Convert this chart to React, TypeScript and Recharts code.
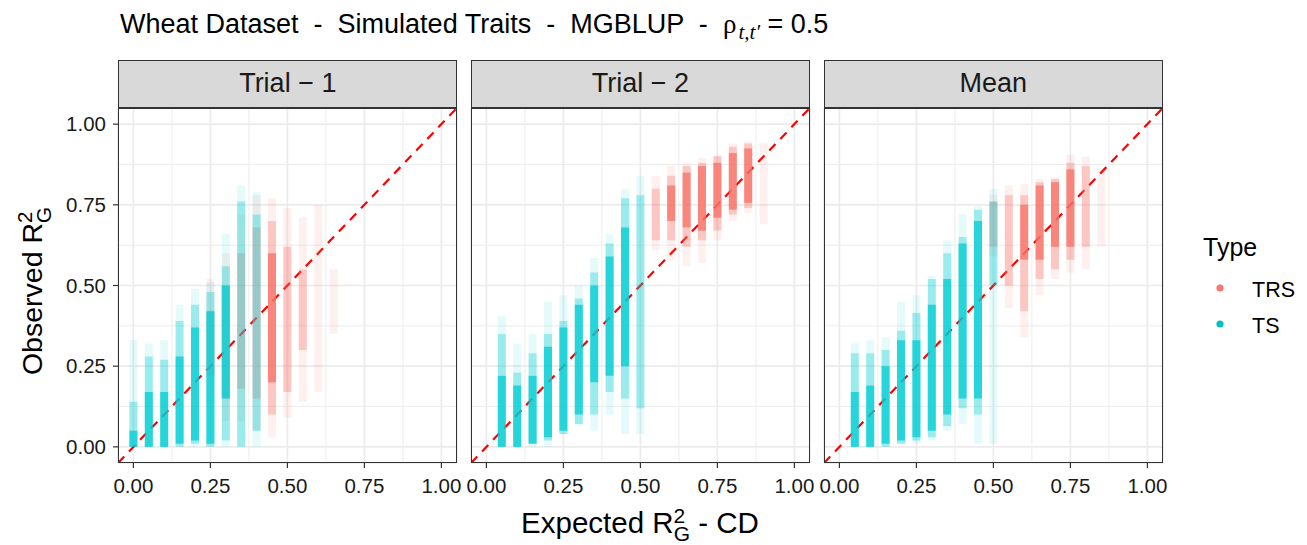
import { ScatterChart, Scatter, XAxis, YAxis, CartesianGrid, ErrorBar } from 'recharts';

// each column of points: [x, lo, midLo, coreLo, coreHi, midHi, hi]
type Col = [number, number, number | null, number | null, number | null, number | null, number];

const panelTitles = ['Trial \u2212 1', 'Trial \u2212 2', 'Mean'];
const majorTicks = [0, 0.25, 0.5, 0.75, 1];
const minorTicks = [0.125, 0.375, 0.625, 0.875];
const axisDomain: [number, number] = [-0.05, 1.05];
const diagonal = [
  { x: -0.05, y: -0.05 },
  { x: 1.05, y: 1.05 },
];

const trial1TS: Col[] = [
  [0.0, 0, 0, 0, 0.05, 0.14, 0.33],
  [0.05, 0, 0, 0, 0.17, 0.28, 0.32],
  [0.1, 0, 0, 0, 0.17, 0.27, 0.33],
  [0.15, 0, 0, 0.01, 0.28, 0.39, 0.44],
  [0.2, 0, 0.01, 0.02, 0.37, 0.44, 0.49],
  [0.25, 0, 0, 0.01, 0.42, 0.48, 0.51],
  [0.3, 0, 0.02, 0.15, 0.5, 0.56, 0.66],
  [0.35, 0, 0, null, null, 0.76, 0.81],
  [0.4, 0, 0.05, null, null, 0.72, 0.79],
];

const trial1TRS: Col[] = [
  [0.25, 0.12, 0.22, null, null, 0.42, 0.52],
  [0.3, 0.08, 0.15, null, null, 0.5, 0.6],
  [0.35, 0.08, 0.18, null, null, 0.6, 0.72],
  [0.4, 0.05, 0.15, null, null, 0.68, 0.78],
  [0.45, 0.03, 0.1, 0.2, 0.6, 0.7, 0.77],
  [0.5, 0.09, 0.17, null, null, 0.62, 0.74],
  [0.55, 0.14, 0.3, null, null, 0.55, 0.71],
  [0.6, 0.17, null, null, null, null, 0.75],
  [0.65, 0.35, null, null, null, null, 0.55],
];

const trial2TS: Col[] = [
  [0.05, 0, 0, 0, 0.22, 0.35, 0.405],
  [0.1, 0, 0, 0, 0.19, 0.23, 0.32],
  [0.15, 0, 0.01, 0.01, 0.22, 0.29, 0.35],
  [0.2, 0, 0.02, 0.03, 0.31, 0.35, 0.45],
  [0.25, 0.04, 0.04, 0.05, 0.37, 0.39, 0.47],
  [0.3, 0.07, 0.07, 0.1, 0.44, 0.46, 0.5],
  [0.35, 0.05, 0.1, 0.2, 0.5, 0.54, 0.585],
  [0.4, 0.1, 0.17, 0.22, 0.59, 0.63, 0.66],
  [0.45, 0.04, 0.15, 0.25, 0.68, 0.77, 0.8],
  [0.5, 0.04, 0.12, null, null, 0.78, 0.84],
];

const trial2TRS: Col[] = [
  [0.55, 0.61, 0.64, null, null, 0.8, 0.84],
  [0.6, 0.58, 0.64, 0.7, 0.81, 0.84, 0.87],
  [0.65, 0.56, 0.62, 0.68, 0.85, 0.87, 0.88],
  [0.7, 0.57, 0.64, 0.67, 0.87, 0.88, 0.895],
  [0.75, 0.64, 0.67, 0.71, 0.88, 0.9, 0.905],
  [0.8, 0.7, 0.72, 0.735, 0.91, 0.93, 0.94],
  [0.85, 0.725, 0.74, 0.756, 0.925, 0.94, 0.946],
  [0.9, 0.69, null, null, null, null, 0.94],
];

const meanTS: Col[] = [
  [0.05, 0, 0, 0, 0.17, 0.29, 0.32],
  [0.1, 0, 0, 0, 0.19, 0.29, 0.33],
  [0.15, 0, 0, 0.01, 0.25, 0.3, 0.34],
  [0.2, 0.01, 0.01, 0.02, 0.33, 0.36, 0.45],
  [0.25, 0.01, 0.02, 0.03, 0.33, 0.415, 0.47],
  [0.3, 0.02, 0.03, 0.05, 0.44, 0.52, 0.53],
  [0.35, 0.05, 0.065, 0.1, 0.52, 0.6, 0.64],
  [0.4, 0.07, 0.12, 0.15, 0.63, 0.65, 0.72],
  [0.45, 0.01, 0.1, 0.15, 0.7, 0.735, 0.745],
  [0.5, 0.01, 0.5, null, null, 0.76, 0.8],
];

const meanTRS: Col[] = [
  [0.5, 0.59, 0.62, null, null, 0.76, 0.78],
  [0.55, 0.43, 0.5, null, null, 0.78, 0.81],
  [0.6, 0.34, 0.42, 0.58, 0.75, 0.78, 0.815],
  [0.65, 0.47, 0.52, 0.58, 0.81, 0.82, 0.83],
  [0.7, 0.52, 0.55, 0.62, 0.82, 0.83, 0.835],
  [0.75, 0.54, 0.58, 0.62, 0.86, 0.88, 0.905],
  [0.8, 0.55, 0.62, null, null, 0.87, 0.9],
  [0.85, 0.62, null, null, null, null, 0.86],
];

const panelData = [
  { ts: trial1TS, trs: trial1TRS },
  { ts: trial2TS, trs: trial2TRS },
  { ts: meanTS, trs: meanTRS },
];

const TS_RGB = '0,205,211';
const TRS_RGB = '248,112,102';

// layout
const PANEL_TOP = 108;
const PANEL_H = 355;
const PANEL_W = 338.8;
const panelLeft = [118.4, 471.1, 823.9];
const Y_AXIS_W = 60;
const X_AXIS_H = 45;
const SIDE = 26; // room so edge tick labels are not clipped
const FONT = '"Liberation Sans", Arial, sans-serif';

// a column band between two of the tuple fields, as an error bar from lo
function band(cols: Col[], a: number, b: number) {
  return cols
    .filter((c) => c[a] != null && c[b] != null)
    .map((c) => {
      const lo = c[a] as number;
      const hi = c[b] as number;
      return { x: c[0], y: lo, e: [0, hi - lo] };
    });
}

const layers = [
  { a: 1, b: 6, alpha: 0.1 },
  { a: 2, b: 5, alpha: 0.33 },
  { a: 3, b: 4, alpha: 0.75 },
];

const noShape = () => <g />;

function Panel({ i }: { i: number }) {
  const showY = i === 0;
  const marginLeft = showY ? 0 : SIDE;
  const yW = showY ? Y_AXIS_W : 0;
  const left = panelLeft[i] - yW - marginLeft;
  const width = PANEL_W + yW + marginLeft + SIDE;
  const height = PANEL_H + X_AXIS_H;
  const { ts, trs } = panelData[i];
  const tick = { fontSize: 20.5, fill: '#1a1a1a', fontFamily: FONT };

  const series = [
    { cols: trs, rgb: TRS_RGB, name: 'TRS' },
    { cols: ts, rgb: TS_RGB, name: 'TS' },
  ];

  return (
    <>
      {/* base: grid, axes and the 1:1 line */}
      <div style={{ position: 'absolute', left, top: PANEL_TOP }}>
        <ScatterChart width={width} height={height} margin={{ top: 0, right: SIDE, bottom: 0, left: marginLeft }}>
          <XAxis xAxisId="minor" type="number" dataKey="x" domain={axisDomain} ticks={minorTicks} allowDataOverflow hide />
          <YAxis yAxisId="minor" type="number" dataKey="y" domain={axisDomain} ticks={minorTicks} allowDataOverflow hide />
          <CartesianGrid xAxisId="minor" yAxisId="minor" stroke="#EBEBEB" strokeWidth={0.9} />
          <CartesianGrid stroke="#EBEBEB" strokeWidth={1.7} />
          <XAxis
            type="number"
            dataKey="x"
            domain={axisDomain}
            ticks={majorTicks}
            interval={0}
            allowDataOverflow
            axisLine={false}
            tickLine={{ stroke: '#333', strokeWidth: 1.2 }}
            tickSize={5}
            tickMargin={10}
            tick={tick}
            tickFormatter={(v: number) => v.toFixed(2)}
            height={X_AXIS_H}
          />
          <YAxis
            type="number"
            dataKey="y"
            domain={axisDomain}
            ticks={majorTicks}
            interval={0}
            allowDataOverflow
            hide={!showY}
            axisLine={false}
            tickLine={{ stroke: '#333', strokeWidth: 1.2 }}
            tickSize={5}
            tickMargin={7}
            tick={tick}
            tickFormatter={(v: number) => v.toFixed(2)}
            width={Y_AXIS_W}
          />
          <Scatter
            data={diagonal}
            shape={noShape}
            line={{ stroke: '#FF0000', strokeWidth: 2.2, strokeDasharray: '9 7' }}
            isAnimationActive={false}
          />
        </ScatterChart>
      </div>

      {/* points on top, same plot area */}
      <div style={{ position: 'absolute', left, top: PANEL_TOP }}>
        <ScatterChart
          width={width}
          height={height}
          margin={{ top: 0, right: SIDE, bottom: X_AXIS_H, left: marginLeft + yW }}
        >
          <XAxis type="number" dataKey="x" domain={axisDomain} allowDataOverflow hide />
          <YAxis type="number" dataKey="y" domain={axisDomain} allowDataOverflow hide />
          {series.map((s) =>
            layers.map((l, k) => (
              <Scatter key={s.name + k} data={band(s.cols, l.a, l.b)} shape={noShape} isAnimationActive={false}>
                <ErrorBar
                  dataKey="e"
                  direction="y"
                  width={0}
                  stroke={`rgba(${s.rgb},${l.alpha})`}
                  strokeWidth={8}
                  isAnimationActive={false}
                />
              </Scatter>
            ))
          )}
        </ScatterChart>
      </div>
    </>
  );
}

export default function App() {
  return (
    <div style={{ position: 'relative', width: 1307, height: 545, background: '#fff', fontFamily: FONT }}>
      <style>{'body{margin:0}'}</style>
      <svg width={1307} height={545} style={{ position: 'absolute', left: 0, top: 0 }}>
        <text x={120} y={33} fontSize={27} fill="#000" fontFamily={FONT} style={{ whiteSpace: 'pre' }}>
          {'Wheat Dataset  -  Simulated Traits  -  MGBLUP  -  '}
          <tspan x={723} fontFamily='"Liberation Serif", serif'>ρ</tspan>
          <tspan fontSize={21} fontStyle="italic" fontFamily='"Liberation Serif", serif' dx={2} dy={6}>
            {'t,t\u2032'}
          </tspan>
          <tspan dy={-6}>{' = 0.5'}</tspan>
        </text>

        <text x={640} y={533} fontSize={29.5} textAnchor="middle" fill="#000" fontFamily={FONT}>
          {'Expected R'}
          <tspan fontSize={21} dy={-10}>2</tspan>
          <tspan fontSize={21} dx={-11.5} dy={18}>G</tspan>
          <tspan dy={-8}>{' - CD'}</tspan>
        </text>

        <text transform="translate(42,291) rotate(-90)" fontSize={28.5} textAnchor="middle" fill="#000" fontFamily={FONT}>
          {'Observed R'}
          <tspan fontSize={20.5} dy={-10}>2</tspan>
          <tspan fontSize={20.5} dx={-11.3} dy={19}>G</tspan>
        </text>

        <text x={1203} y={256} fontSize={25} fill="#000" fontFamily={FONT}>Type</text>
        <circle cx={1220} cy={288} r={3.6} fill="#F8766D" />
        <text x={1252} y={297} fontSize={21.5} fill="#000" fontFamily={FONT}>TRS</text>
        <circle cx={1220} cy={324} r={3.6} fill="#00BFC4" />
        <text x={1252} y={333} fontSize={21.5} fill="#000" fontFamily={FONT}>TS</text>
      </svg>

      {panelTitles.map((t, i) => (
        <div
          key={t}
          style={{
            position: 'absolute',
            left: panelLeft[i],
            top: 60,
            width: PANEL_W,
            height: 48,
            boxSizing: 'border-box',
            background: '#D9D9D9',
            border: '1.5px solid #333',
            color: '#1a1a1a',
            fontSize: 27,
            lineHeight: '45px',
            textAlign: 'center',
          }}
        >
          {t}
        </div>
      ))}

      {panelTitles.map((t, i) => (
        <Panel key={t} i={i} />
      ))}

      {panelTitles.map((t, i) => (
        <div
          key={t + 'frame'}
          style={{
            position: 'absolute',
            left: panelLeft[i],
            top: PANEL_TOP,
            width: PANEL_W,
            height: PANEL_H,
            boxSizing: 'border-box',
            border: '1.5px solid #333',
            pointerEvents: 'none',
          }}
        />
      ))}
    </div>
  );
}
